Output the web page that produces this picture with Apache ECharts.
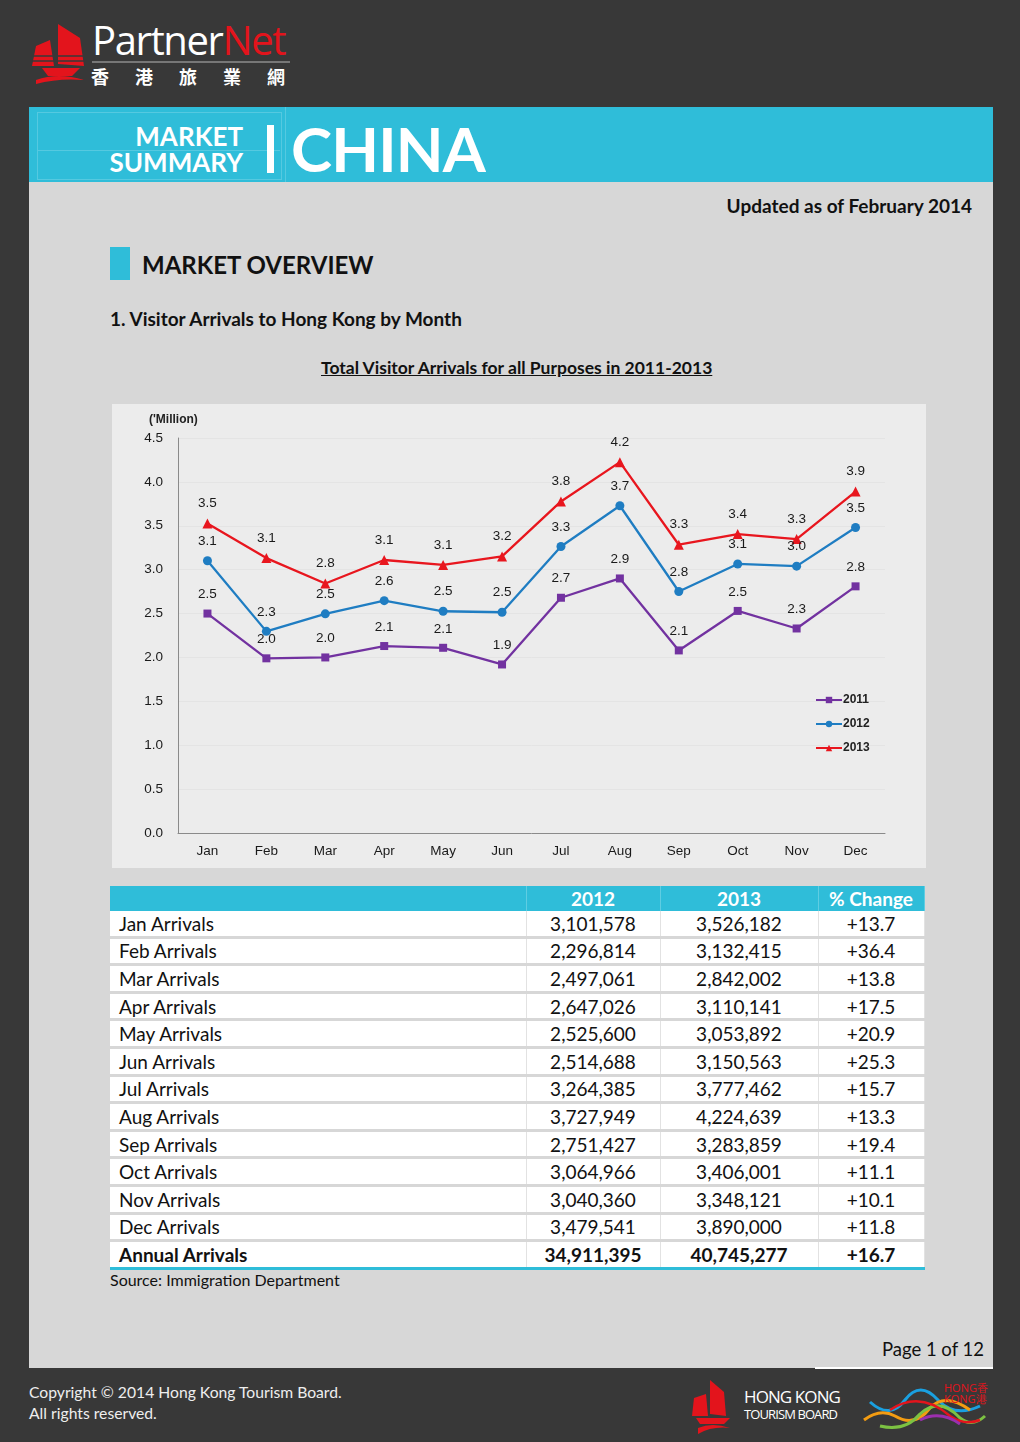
<!DOCTYPE html>
<html><head><meta charset="utf-8">
<script src="https://cdn.jsdelivr.net/npm/echarts@6/dist/echarts.min.js"></script>
<style>
html,body{margin:0;padding:0;}
body{width:1020px;height:1442px;background:#383838;position:relative;overflow:hidden;font-family:Lato,"Open Sans",sans-serif;}
.abs{position:absolute;}
#content{left:29px;top:107px;width:964px;height:1261px;background:#d7d7d7;}
#banner{left:29px;top:107px;width:964px;height:75px;background:#2fbdd9;}
.t{position:absolute;white-space:nowrap;}
table{border-collapse:collapse;}
#tbl{position:absolute;left:110px;top:886px;width:814px;font-family:Lato,sans-serif;font-size:19px;color:#111;table-layout:fixed;}
#tbl th{background:#2fbdd9;color:#fff;font-weight:bold;height:25px;padding:0;text-align:center;font-size:19px;border-right:1px solid #5fcde2;}
#tbl td{background:#fff;height:24.6px;padding:0;border-bottom:3px solid #d7d7d7;border-right:1px solid #e2e2e2;text-align:center;}
#tbl td.l{text-align:left;padding-left:9px;}
#tbl tr.an td{font-weight:bold;border-top:3px solid #2fbdd9;border-bottom:3px solid #2fbdd9;}
</style></head>
<body>
<!-- PartnerNet logo -->
<svg class="abs" style="left:28px;top:20px" width="70" height="70" viewBox="0 0 70 70">
 <polygon points="30,4 52,18 56,46 30,44" fill="#e3141c"/>
 <polygon points="8,26 22,20 26,46 4,46" fill="#e3141c"/>
 <path d="M14,48 L52,48 L44,56 L20,56 Z" fill="#e3141c"/>
 <path d="M8,60 Q30,52 56,60 Q30,58 8,64 Z" fill="#e3141c"/>
 <line x1="4" y1="36" x2="56" y2="36" stroke="#383838" stroke-width="1.5"/>
 <line x1="4" y1="41" x2="56" y2="41" stroke="#383838" stroke-width="1.5"/>
</svg>
<div class="t" style="left:92px;top:16px;font-family:'Open Sans',sans-serif;font-size:40px;letter-spacing:-1.4px;line-height:48px;color:#fff;">Partner<span style="color:#e3141c">Net</span></div>
<div class="abs" style="left:92px;top:61px;width:198px;height:2px;background:#777;"></div>
<div class="t" style="left:91px;top:64px;font-family:'Noto Sans CJK TC',sans-serif;font-weight:bold;font-size:18px;line-height:24px;color:#fff;letter-spacing:26px;">香港旅業網</div>

<div id="content" class="abs"></div>
<div id="banner" class="abs"></div>
<div class="abs" style="left:37px;top:112px;width:243px;height:66px;border:1px solid #55c9e0;"></div>
<div class="abs" style="left:37px;top:150px;width:243px;height:1px;background:#55c9e0;"></div>
<div class="abs" style="left:285px;top:107px;width:1px;height:75px;background:#55c9e0;"></div>
<div class="t" style="right:777px;top:121px;font-family:Lato,sans-serif;font-weight:bold;font-size:26px;line-height:30px;color:#fff;text-align:right;">MARKET</div>
<div class="t" style="right:777px;top:147px;font-family:Lato,sans-serif;font-weight:bold;font-size:26px;line-height:30px;color:#fff;text-align:right;">SUMMARY</div>
<div class="abs" style="left:267px;top:125px;width:7px;height:48px;background:#fff;"></div>
<div class="t" style="left:291px;top:109px;font-family:Lato,sans-serif;font-weight:bold;font-size:62px;letter-spacing:-0.8px;line-height:78px;color:#fff;">CHINA</div>

<div class="t" style="right:48px;top:194px;font-weight:bold;font-size:19px;line-height:24px;color:#111;">Updated as of February 2014</div>
<div class="abs" style="left:110px;top:247px;width:20px;height:33px;background:#2fbdd9;"></div>
<div class="t" style="left:142px;top:250px;font-weight:bold;font-size:24px;line-height:30px;color:#111;">MARKET OVERVIEW</div>
<div class="t" style="left:110px;top:307px;font-weight:bold;font-size:19px;line-height:24px;color:#111;">1. Visitor Arrivals to Hong Kong by Month</div>
<div class="t" style="left:321px;top:356px;font-weight:bold;font-size:17.5px;line-height:23px;color:#111;text-decoration:underline;">Total Visitor Arrivals for all Purposes in 2011-2013</div>

<div id="chart" class="abs" style="left:112px;top:404px;width:814px;height:464px;background:#ececec;"></div>

<table id="tbl"><colgroup><col style="width:416px"><col style="width:134px"><col style="width:158px"><col style="width:106px"></colgroup><thead></thead><tbody></tbody></table>
<div class="t" style="left:110px;top:1270px;font-size:16px;line-height:20px;color:#111;">Source: Immigration Department</div>
<div class="t" style="right:36px;top:1338px;font-size:18.5px;line-height:22px;color:#111;">Page 1 of 12</div>
<div class="abs" style="left:815px;top:1367px;width:178px;height:2px;background:#fff;"></div>

<div class="t" style="left:29px;top:1382px;font-size:15.7px;line-height:21px;color:#eee;">Copyright © 2014 Hong Kong Tourism Board.<br>All rights reserved.</div>
<!-- HKTB logo -->
<svg class="abs" style="left:690px;top:1378px" width="56" height="58" viewBox="0 0 56 58">
 <polygon points="20,2 34,14 36,38 20,36" fill="#e3141c"/>
 <polygon points="4,20 16,16 18,38 2,38" fill="#e3141c"/>
 <path d="M6,40 L40,40 L34,46 L10,46 Z" fill="#e3141c"/>
 <path d="M8,50 Q22,44 40,50 Q22,48 8,56 Z" fill="#e3141c"/>
</svg>
<div class="t" style="left:744px;top:1388px;font-family:'Open Sans',sans-serif;font-size:17px;line-height:18px;color:#fff;letter-spacing:-0.9px;">HONG KONG</div>
<div class="t" style="left:744px;top:1406px;font-family:'Open Sans',sans-serif;font-size:13px;line-height:16px;color:#fff;letter-spacing:-0.9px;">TOURISM BOARD</div>
<svg class="abs" style="left:860px;top:1380px" width="132" height="52" viewBox="0 0 132 52">
 <path d="M10,22 Q30,40 45,20 Q60,0 78,20 Q95,38 120,26" stroke="#1aa0e0" stroke-width="3" fill="none"/>
 <path d="M4,40 Q20,28 35,36 Q55,48 70,28 Q85,12 110,30" stroke="#f39c12" stroke-width="3" fill="none"/>
 <path d="M20,46 Q45,52 60,34 Q80,16 100,38 Q112,48 125,36" stroke="#7cc242" stroke-width="3" fill="none"/>
 <path d="M30,30 Q60,10 90,36 Q105,46 120,40" stroke="#e3141c" stroke-width="2.5" fill="none"/>
 <path d="M60,40 Q80,30 100,44" stroke="#9b2fae" stroke-width="3" fill="none"/>
 <text x="84" y="12" fill="#e3141c" font-family="Open Sans" font-size="11">HONG香</text>
 <text x="84" y="23" fill="#e3141c" font-family="Open Sans" font-size="11">KONG港</text>
</svg>

<script>
const months = ['Jan','Feb','Mar','Apr','May','Jun','Jul','Aug','Sep','Oct','Nov','Dec'];
const yTickLabels = ['0.0','0.5','1.0','1.5','2.0','2.5','3.0','3.5','4.0','4.5'];
const arrivals2011 = [2.50,1.99,2.00,2.13,2.11,1.92,2.68,2.90,2.08,2.53,2.33,2.81];
const arrivals2012 = [3.102,2.297,2.497,2.647,2.526,2.515,3.264,3.728,2.751,3.065,3.040,3.480];
const arrivals2013 = [3.526,3.132,2.842,3.110,3.054,3.151,3.777,4.225,3.284,3.406,3.348,3.890];

const tableHead = ['', '2012', '2013', '% Change'];
const rowLabels = ['Jan Arrivals','Feb Arrivals','Mar Arrivals','Apr Arrivals','May Arrivals','Jun Arrivals','Jul Arrivals','Aug Arrivals','Sep Arrivals','Oct Arrivals','Nov Arrivals','Dec Arrivals','Annual Arrivals'];
const table2012 = ['3,101,578','2,296,814','2,497,061','2,647,026','2,525,600','2,514,688','3,264,385','3,727,949','2,751,427','3,064,966','3,040,360','3,479,541','34,911,395'];
const table2013 = ['3,526,182','3,132,415','2,842,002','3,110,141','3,053,892','3,150,563','3,777,462','4,224,639','3,283,859','3,406,001','3,348,121','3,890,000','40,745,277'];
const tableChange = ['+13.7','+36.4','+13.8','+17.5','+20.9','+25.3','+15.7','+13.3','+19.4','+11.1','+10.1','+11.8','+16.7'];

// table
const thead = document.querySelector('#tbl thead');
const hr = document.createElement('tr');
tableHead.forEach(h => { const th = document.createElement('th'); th.textContent = h; hr.appendChild(th); });
thead.appendChild(hr);
const tbody = document.querySelector('#tbl tbody');
rowLabels.forEach((lab, i) => {
  const tr = document.createElement('tr');
  if (i === rowLabels.length - 1) tr.className = 'an';
  [lab, table2012[i], table2013[i], tableChange[i]].forEach((v, j) => {
    const td = document.createElement('td'); td.textContent = v; if (j === 0) td.className = 'l'; tr.appendChild(td);
  });
  tbody.appendChild(tr);
});

const chart = echarts.init(document.getElementById('chart'), null, {renderer:'canvas'});
const FF = 'Liberation Sans, Arial, sans-serif';
const lbl = {show:true, position:'top', distance:8, fontFamily:FF, fontSize:13.5, color:'#1a1a1a',
  formatter: p => (Math.round(p.value * 10 + 1e-9) / 10).toFixed(1)};
function mk(name, data, color, symbol, size){
  return {name, type:'line', data, symbol, symbolSize:size, color,
    lineStyle:{color, width:2.3}, itemStyle:{color}, label:lbl, emphasis:{disabled:true}, z: 3};
}
chart.setOption({
  animation:false,
  backgroundColor:'#ececec',
  grid:{left:66, top:34, right:41, bottom:35},
  legend:{orient:'vertical', left:698, top:285, itemWidth:26, itemHeight:8, itemGap:12,
    textStyle:{fontFamily:FF, fontSize:12, fontWeight:'bold', color:'#222', padding:[0,0,0,-4]},
    data:['2011','2012','2013']},
  xAxis:{type:'category', data:months, boundaryGap:true,
    axisLine:{lineStyle:{color:'#8a8a8a', width:1}}, axisTick:{show:false},
    axisLabel:{fontFamily:FF, fontSize:13.5, color:'#1a1a1a', margin:11}},
  yAxis:{type:'value', min:0, max:4.5, interval:0.5, name:"('Million)", nameGap:12,
    nameTextStyle:{fontFamily:FF, fontSize:12, fontWeight:'bold', color:'#222', align:'left', padding:[0,0,0,-29]},
    axisLine:{show:true, lineStyle:{color:'#8a8a8a', width:1}}, axisTick:{show:false},
    splitLine:{lineStyle:{color:'#e4e4e4'}},
    axisLabel:{fontFamily:FF, fontSize:13.5, color:'#1a1a1a', margin:15,
      formatter: v => yTickLabels[Math.round(v/0.5)]}},
  series:[
    mk('2011', arrivals2011, '#7232a0', 'rect', 8),
    mk('2012', arrivals2012, '#1f7dc2', 'circle', 9),
    mk('2013', arrivals2013, '#e8161e', 'triangle', 10)
  ]
});
</script>
</body></html>
